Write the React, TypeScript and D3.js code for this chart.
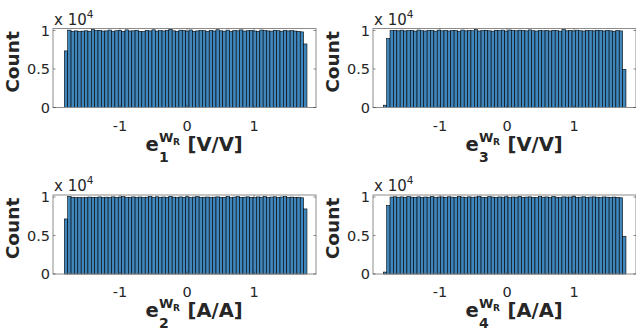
import * as d3 from 'd3';

// bin counts (72 bins each)
const countsE1 = [
  7350, 10050, 9900, 9950, 9880, 9920, 9960, 9900, 10120, 9980, 10020, 9930,
  9950, 10060, 9910, 9970, 10000, 9890, 10080, 9940, 9960, 10030, 9900, 9870,
  10010, 9950, 10090, 9920, 9980, 9940, 10000, 10150, 9960, 9900, 10040, 9980,
  9930, 10070, 9890, 9950, 10020, 9970, 9900, 10010, 9940, 10100, 9960, 9920,
  10050, 9880, 10000, 9960, 10080, 9930, 9970, 10010, 9940, 9900, 10060, 9990,
  9950, 9920, 10030, 9970, 9910, 10000, 9950, 9980, 9930, 9880, 9820, 8250,
];
const countsE3 = [
  300, 8950, 9980, 10020, 9960, 10040, 9950, 9990, 10010, 9930, 10060, 9970,
  9940, 10030, 9990, 9920, 10050, 9960, 10000, 9940, 10020, 9980, 9910, 10060,
  9950, 10000, 9970, 10110, 9940, 9990, 10030, 9960, 9920, 10010, 9980, 10050,
  9930, 10070, 10000, 9960, 10040, 9990, 9950, 10080, 9970, 9930, 10010, 9960,
  10000, 9940, 10030, 9980, 9920, 10120, 9960, 10000, 9950, 10040, 9970, 9930,
  10010, 9980, 9950, 10030, 9990, 9940, 10020, 9960, 9910, 9990, 9950, 4950,
];
const countsE2 = [
  7150, 10040, 9970, 9920, 9950, 9900, 9940, 9990, 9960, 9930, 10010, 9950,
  9980, 9940, 10020, 9960, 9990, 10050, 9930, 9970, 10010, 9950, 10000, 9920,
  9980, 10060, 9940, 10030, 9970, 10000, 9950, 10090, 9980, 9940, 10010, 9960,
  10030, 9920, 9990, 10050, 9950, 9970, 10000, 9930, 9980, 10020, 9940, 9960,
  10070, 9910, 9990, 10040, 9950, 9980, 10020, 9960, 9930, 10010, 9970, 10060,
  9940, 9990, 10030, 9950, 10000, 10050, 9960, 9990, 9940, 9970, 9900, 8450,
];
const countsE4 = [
  250, 8900, 9990, 10030, 9970, 10010, 9950, 10040, 9980, 9960, 10020, 9940,
  10000, 9970, 10050, 9930, 9990, 10010, 9960, 10030, 9980, 9950, 10060, 9990,
  9940, 10020, 9970, 10000, 10100, 9960, 9930, 10040, 9990, 9950, 10010, 9970,
  10030, 9940, 10000, 9980, 10060, 9950, 9990, 10020, 9960, 9930, 10040, 9980,
  10010, 9950, 10070, 9970, 9940, 10020, 9990, 10000, 10110, 9960, 9980, 10030,
  9950, 9990, 10020, 9970, 9940, 10010, 9980, 9960, 9990, 9950, 9900, 4900,
];

const binWidth = 0.0503;
const xTicks = [-1, 0, 1];
const yTicks = [0, 5000, 10000];
const yTickLabels = ['0', '0.5', '1'];

const panels = [
  { col: 0, row: 0, counts: countsE1, start: -1.831, sub: '1', unit: '[V/V]' },
  { col: 1, row: 0, counts: countsE3, start: -1.846, sub: '3', unit: '[V/V]' },
  { col: 0, row: 1, counts: countsE2, start: -1.831, sub: '2', unit: '[A/A]' },
  { col: 1, row: 1, counts: countsE4, start: -1.846, sub: '4', unit: '[A/A]' },
];

const W = 636;
const H = 333;
const font = 'DejaVu Sans, sans-serif';
const tickColor = '#262626';

function Panel({ p }: { p: (typeof panels)[number] }) {
  const left = p.col === 0 ? 53 : 373;
  const top = p.row === 0 ? 28.5 : 195;
  const w = 263;
  const h = 79;

  const x = d3.scaleLinear().domain([-2.0, -2.0 + w / 67]).range([left, left + w]);
  const y = d3.scaleLinear().domain([0, 10260]).range([top + h, top]);

  const bins = p.counts.map((c, i) => ({ x0: p.start + i * binWidth, x1: p.start + (i + 1) * binWidth, c }));
  const cx = left + w / 2;
  const x0 = cx - 39;
  const base = top + h + 43;

  return (
    <g>
      {bins.map((b, i) => (
        <rect
          key={i}
          x={x(b.x0)}
          y={y(b.c)}
          width={x(b.x1) - x(b.x0)}
          height={y(0) - y(b.c)}
          fill="#3f86bd"
          stroke="#000"
          strokeWidth={0.6}
        />
      ))}
      <rect x={left} y={top} width={w} height={h} fill="none" stroke="#8c8c8c" strokeWidth={1} />
      {xTicks.map((t) => (
        <g key={t}>
          <line x1={x(t)} x2={x(t)} y1={top + h} y2={top + h - 2.6} stroke={tickColor} strokeWidth={0.5} />
          <line x1={x(t)} x2={x(t)} y1={top} y2={top + 2.6} stroke={tickColor} strokeWidth={0.5} />
          <text x={x(t)} y={top + h + 23} textAnchor="middle" fontSize={14.5} fill={tickColor} fontFamily={font}>
            {t < 0 ? `-${Math.abs(t)}` : t}
          </text>
        </g>
      ))}
      {yTicks.map((t, i) => (
        <g key={t}>
          <line x1={left} x2={left + 2.6} y1={y(t)} y2={y(t)} stroke={tickColor} strokeWidth={0.5} />
          <line x1={left + w} x2={left + w - 2.6} y1={y(t)} y2={y(t)} stroke={tickColor} strokeWidth={0.5} />
          <text x={left - 3} y={y(t) + 5} textAnchor="end" fontSize={14.5} fill={tickColor} fontFamily={font}>
            {yTickLabels[i]}
          </text>
        </g>
      ))}
      {/* exponent */}
      <text x={left + 1} y={top - 4} fontSize={15} fill={tickColor} fontFamily={font}>
        x 10
        <tspan fontSize={10.5} dy={-7}>4</tspan>
      </text>
      {/* y label */}
      <text
        transform={`translate(${left - 34},${top + h / 2 - 6}) rotate(-90)`}
        textAnchor="middle"
        fontSize={18.5}
        fontWeight="bold"
        fill={tickColor}
        fontFamily={font}
      >
        Count
      </text>
      {/* x label: e_sub^{W_R} [unit] */}
      <g fontFamily={font} fontWeight="bold" fill={tickColor}>
        <text x={x0} y={base} fontSize={19.5}>e</text>
        <text x={x0 + 13.5} y={base + 11} fontSize={14}>{p.sub}</text>
        <text x={x0 + 13.5} y={base - 9} fontSize={13}>W</text>
        <text x={x0 + 27.5} y={base - 6} fontSize={9}>R</text>
        <text x={x0 + 42} y={base} fontSize={19.5}>{p.unit}</text>
      </g>
    </g>
  );
}

export default function App() {
  return (
    <svg width={W} height={H} style={{ position: 'absolute', left: 0, top: 0, background: '#fff' }}>
      {panels.map((p, i) => (
        <Panel key={i} p={p} />
      ))}
    </svg>
  );
}
